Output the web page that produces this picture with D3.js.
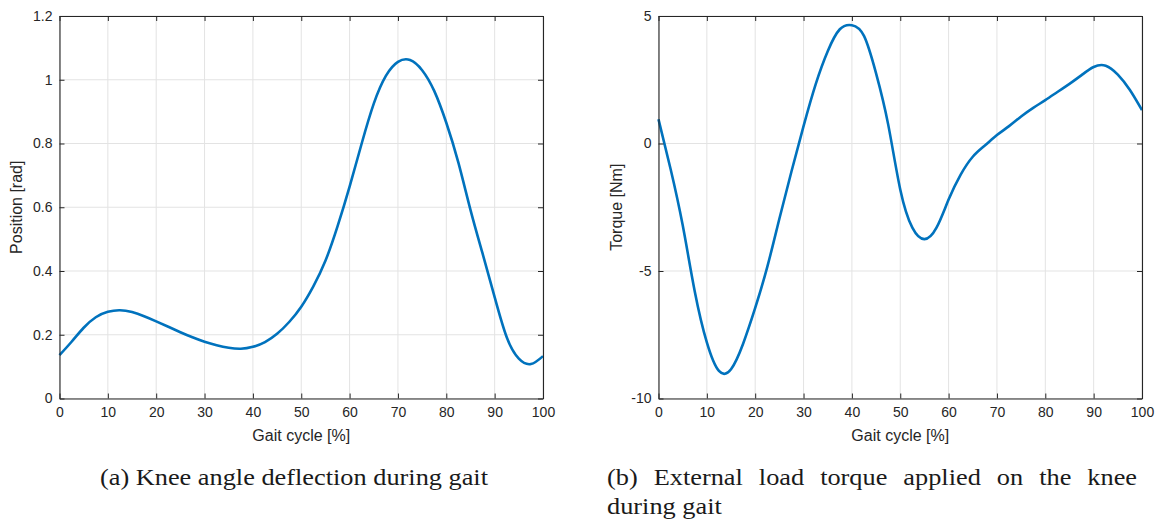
<!DOCTYPE html>
<html>
<head>
<meta charset="utf-8">
<script src="https://cdn.jsdelivr.net/npm/d3@7"></script>
<style>
  html, body { margin: 0; padding: 0; background: #fff; }
  svg { display: block; }
  .tick text { font-family: "Liberation Sans", Arial, Helvetica, sans-serif; font-size: 14px; fill: #262626; }
  .axlabel { font-family: "Liberation Sans", Arial, Helvetica, sans-serif; font-size: 16px; fill: #262626; }
  .caption { font-family: "Liberation Serif", "Times New Roman", serif; font-size: 23px; fill: #1a1a1a; }
</style>
</head>
<body>
<svg id="chart" width="1163" height="521"></svg>
<script>
// ---------- data ----------
const xTicks = [0, 10, 20, 30, 40, 50, 60, 70, 80, 90, 100];
const angleTicks = [0, 0.2, 0.4, 0.6, 0.8, 1, 1.2];
const angleTickLabels = ["0", "0.2", "0.4", "0.6", "0.8", "1", "1.2"];
const torqueTicks = [-10, -5, 0, 5];
const torqueTickLabels = ["-10", "-5", "0", "5"];

const gaitAngle = [0, 2.5, 5, 7.5, 10, 12.5, 15, 17.5, 20, 22.5, 25, 27.5, 30, 32.5, 35, 37.5, 40, 42.5, 45, 47.5, 50, 52.5, 55, 57.5, 60, 62.5, 65, 67.5, 70, 72.5, 75, 77.5, 80, 82.5, 85, 87.5, 90, 92.5, 95, 97.5, 100];
const kneeAngle = [0.136, 0.178, 0.222, 0.255, 0.272, 0.277, 0.271, 0.258, 0.242, 0.225, 0.208, 0.192, 0.178, 0.167, 0.159, 0.156, 0.162, 0.177, 0.203, 0.240, 0.288, 0.352, 0.432, 0.540, 0.665, 0.800, 0.925, 1.012, 1.056, 1.062, 1.030, 0.965, 0.865, 0.740, 0.592, 0.455, 0.318, 0.192, 0.125, 0.108, 0.133];

const gaitTorque = [0, 2.5, 5, 7.5, 10, 12.5, 15, 17.5, 20, 22.5, 25, 27.5, 30, 32.5, 35, 37.5, 40, 42.5, 45, 47.5, 50, 52.5, 55, 57.5, 60, 62.5, 65, 67.5, 70, 72.5, 75, 77.5, 80, 82.5, 85, 87.5, 90, 92.5, 95, 97.5, 100];
const kneeTorque = [0.95, -1.0, -3.2, -5.8, -7.8, -8.92, -8.85, -7.85, -6.45, -4.84, -2.95, -1.1, 0.68, 2.32, 3.62, 4.48, 4.64, 4.22, 2.75, 0.75, -1.8, -3.3, -3.75, -3.3, -2.2, -1.22, -0.52, -0.08, 0.33, 0.68, 1.06, 1.40, 1.70, 2.02, 2.34, 2.68, 3.0, 3.05, 2.7, 2.1, 1.31];

const xLabel = "Gait cycle [%]";
const captionA = "(a) Knee angle deflection during gait";
const captionB1 = "(b) External load torque applied on the knee";
const captionB2 = "during gait";

// ---------- drawing ----------
const svg = d3.select("#chart");
const axisColor = "#262626";
const gridColor = "#e3e3e3";
const lineColor = "#0072BD";

function panel(cfg) {
  const x = d3.scaleLinear().domain([0, 100]).range([cfg.left, cfg.right]);
  const y = d3.scaleLinear().domain(cfg.yDomain).range([398.5, 16]);
  const g = svg.append("g");

  g.append("g").selectAll("line").data(xTicks).join("line")
    .attr("x1", d => x(d)).attr("x2", d => x(d))
    .attr("y1", y.range()[0]).attr("y2", y.range()[1])
    .attr("stroke", gridColor).attr("stroke-width", 1);
  g.append("g").selectAll("line").data(cfg.yTicks).join("line")
    .attr("y1", d => y(d)).attr("y2", d => y(d))
    .attr("x1", x.range()[0]).attr("x2", x.range()[1])
    .attr("stroke", gridColor).attr("stroke-width", 1);

  const line = d3.line().x((d, i) => x(cfg.xs[i])).y(d => y(d)).curve(d3.curveNatural);
  g.append("path").datum(cfg.ys).attr("d", line)
    .attr("fill", "none").attr("stroke", lineColor).attr("stroke-width", 2.6)
    .attr("stroke-linejoin", "round");

  const bottom = g.append("g").attr("transform", `translate(0,${y.range()[0]})`)
    .call(d3.axisBottom(x).tickValues(xTicks).tickFormat(d3.format("d")).tickSizeInner(-5).tickSizeOuter(0).tickPadding(9));
  const top = g.append("g").attr("transform", `translate(0,${y.range()[1]})`)
    .call(d3.axisTop(x).tickValues(xTicks).tickFormat("").tickSizeInner(-5).tickSizeOuter(0));
  const left = g.append("g").attr("transform", `translate(${x.range()[0]},0)`)
    .call(d3.axisLeft(y).tickValues(cfg.yTicks).tickFormat((d, i) => cfg.yLabels[i]).tickSizeInner(-5).tickSizeOuter(0).tickPadding(7));
  const right = g.append("g").attr("transform", `translate(${x.range()[1]},0)`)
    .call(d3.axisRight(y).tickValues(cfg.yTicks).tickFormat("").tickSizeInner(-5).tickSizeOuter(0));
  [bottom, top, left, right].forEach(a => {
    a.select(".domain").attr("stroke", axisColor).attr("stroke-width", 1.1);
    a.selectAll(".tick line").attr("stroke", axisColor).attr("stroke-width", 1);
    a.selectAll(".tick text").attr("fill", axisColor).attr("font-family", null).attr("font-size", null);
  });
  bottom.selectAll(".tick text").attr("dy", "0.71em");

  g.append("text").attr("class", "axlabel")
    .attr("x", (x.range()[0] + x.range()[1]) / 2).attr("y", 441)
    .attr("text-anchor", "middle").text(xLabel);
  g.append("text").attr("class", "axlabel")
    .attr("transform", `translate(${cfg.yLabelX},${(y.range()[0] + y.range()[1]) / 2}) rotate(-90)`)
    .attr("text-anchor", "middle").text(cfg.yLabel);
}

panel({ left: 59.5, right: 543, yDomain: [0, 1.2], yTicks: angleTicks, yLabels: angleTickLabels,
        xs: gaitAngle, ys: kneeAngle, yLabel: "Position [rad]", yLabelX: 21.5 });
panel({ left: 658.5, right: 1142, yDomain: [-10, 5], yTicks: torqueTicks, yLabels: torqueTickLabels,
        xs: gaitTorque, ys: kneeTorque, yLabel: "Torque [Nm]", yLabelX: 621.5 });

// ---------- captions ----------
function measure(str) {
  const t = svg.append("text").attr("class", "caption").text(str);
  const w = t.node().getComputedTextLength();
  t.remove();
  return w;
}
const spaceW = measure("a a") - measure("aa");
const scaleA = 388 / measure(captionA);

function words(str, x0, y0, target) {
  const ws = str.split(" ");
  const widths = ws.map(w => measure(w) * scaleA);
  const total = d3.sum(widths);
  const gap = target ? (target - total) / (ws.length - 1) : spaceW * scaleA;
  let x = x0;
  ws.forEach((w, i) => {
    svg.append("text").attr("class", "caption")
      .attr("x", x).attr("y", y0)
      .attr("textLength", widths[i]).attr("lengthAdjust", "spacingAndGlyphs")
      .text(w);
    x += widths[i] + gap;
  });
}
words(captionA, 100, 485, 388);
words(captionB1, 607, 485, 530);
words(captionB2, 607, 514, null);
</script>
</body>
</html>
